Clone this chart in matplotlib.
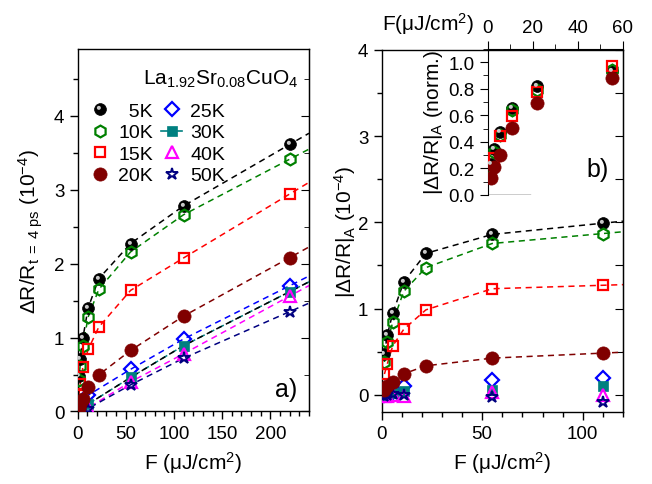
import numpy as np
import matplotlib.pyplot as plt
from matplotlib.path import Path
from matplotlib.lines import Line2D
from matplotlib.ticker import MultipleLocator

plt.rcParams['font.family'] = ['Liberation Sans', 'DejaVu Sans']
plt.rcParams['mathtext.fontset'] = 'custom'
plt.rcParams['mathtext.rm'] = 'Liberation Sans'
plt.rcParams['mathtext.it'] = 'Liberation Sans:italic'
plt.rcParams['mathtext.bf'] = 'Liberation Sans:bold'

# --- panel a) dR/R at t = 4 ps (1e-4) vs fluence (uJ/cm^2) ---
F_a_low = [1.375, 2.75, 5.5, 11, 22, 55, 110, 220]
a_5K = [0.485, 0.71, 0.99, 1.40, 1.795, 2.27, 2.78, 3.61]
a_10K = [0.42, 0.62, 0.883, 1.277, 1.65, 2.157, 2.66, 3.41]
a_15K = [0.22, 0.373, 0.598, 0.838, 1.14, 1.637, 2.076, 2.94]
a_20K = [0.05, 0.10, 0.17, 0.328, 0.495, 0.825, 1.29, 2.08]
F_a_high = [2.75, 11, 55, 110, 220]
a_25K = [0.06, 0.22, 0.57, 0.98, 1.70]
a_30K = [0.03, 0.10, 0.46, 0.89, 1.62]
a_40K = [0.02, 0.05, 0.40, 0.78, 1.56]
a_50K = [0.02, 0.04, 0.36, 0.72, 1.35]

# --- panel b) |dR/R|_A (1e-4) vs fluence ---
F_b_low = [1.375, 2.75, 5.5, 11, 22, 55, 110]
b_5K = [0.47, 0.69, 0.945, 1.31, 1.64, 1.86, 1.99]
b_10K = [0.38, 0.61, 0.84, 1.20, 1.475, 1.755, 1.87]
b_15K = [0.24, 0.355, 0.567, 0.76, 0.985, 1.23, 1.27]
b_20K = [0.06, 0.10, 0.145, 0.243, 0.336, 0.425, 0.483]
F_b_high = [1.375, 2.75, 5.5, 11, 55, 110]
b_25K = [0.0, 0.02, 0.03, 0.10, 0.174, 0.19]
b_30K = [0.0, 0.01, 0.02, 0.04, 0.05, 0.10]
b_40K = [-0.02, -0.01, 0.0, -0.01, 0.03, 0.0]
b_50K = [-0.02, 0.0, 0.01, 0.0, -0.03, -0.08]

labels = ['  5K', '10K', '15K', '20K', '25K', '30K', '40K', '50K']

# --- marker styles ---
th = np.linspace(0, 2 * np.pi, 40)
hl_verts = [(1.0, -1.0)] + [(-0.28 + 0.34 * np.cos(t), 0.28 + 0.34 * np.sin(t)) for t in th]
hl_codes = [Path.MOVETO, Path.MOVETO] + [Path.LINETO] * (len(th) - 2) + [Path.CLOSEPOLY]
highlight = Path(hl_verts, hl_codes)

MS = 8.5
styles = [
    dict(marker='o', color='black', mfc='black', mec='black', ms=MS),
    dict(marker='h', color='green', mfc='none', mec='green', mew=1.6, ms=MS),
    dict(marker='s', color='red', mfc='none', mec='red', mew=1.6, ms=7),
    dict(marker='o', color='#800000', mfc='#800000', mec='#800000', ms=9.5),
    dict(marker='D', color='blue', mfc='none', mec='blue', mew=1.6, ms=7),
    dict(marker='s', color='teal', mfc='teal', mec='teal', ms=7),
    dict(marker='^', color='magenta', mfc='none', mec='magenta', mew=1.6, ms=8),
    dict(marker='*', color='#000080', mfc='none', mec='#000080', mew=1.4, ms=9),
]
hl_style = dict(marker=highlight, mfc='#c8c8c8', mec='none', mew=0, ms=MS)


def dashed(ax, F, y, xmax, color, offset=0):
    F = np.asarray(F, float)
    y = np.asarray(y, float)
    slope = (y[-1] - y[-2]) / (F[-1] - F[-2])
    xs = np.append(F, xmax)
    ys = np.append(y, y[-1] + slope * (xmax - F[-1]))
    ax.plot(xs, ys, ls=(offset, (4, 3)), color=color, lw=1.1, zorder=1)


def points(ax, F, y, i, z=3):
    st = styles[i]
    ax.plot(F, y, ls='none', marker=st['marker'], mfc=st['mfc'], mec=st['mec'],
            mew=st.get('mew', 0.5), ms=st['ms'], zorder=z, clip_on=True)
    if i == 0:
        ax.plot(F, y, ls='none', zorder=z + 0.1, **hl_style)


def style_axis(ax):
    ax.tick_params(which='both', direction='out', labelsize=13.5, top=False, right=False)
    ax.tick_params(which='major', length=6, width=1)
    ax.tick_params(which='minor', length=3.5, width=1)
    for s in ax.spines.values():
        s.set_linewidth(1)
    # mirror ticks pointing inward on the right
    sec = ax.secondary_yaxis('right')
    sec.tick_params(which='both', direction='in', labelright=False)
    sec.tick_params(which='major', length=6)
    sec.tick_params(which='minor', length=3.5)
    return sec


fig = plt.figure(figsize=(6.52, 4.85), dpi=100)
axa = fig.add_axes([0.1189, 0.1495, 0.355, 0.7474])
axb = fig.add_axes([0.5854, 0.1485, 0.370, 0.7464])

# panel a
a_low = [a_5K, a_10K, a_15K, a_20K]
a_high = [a_25K, a_30K, a_40K, a_50K]
for i, y in enumerate(a_low):
    dashed(axa, F_a_low, y, 240, styles[i]['color'])
for i, y in enumerate(a_high):
    dashed(axa, F_a_high, y, 240, styles[i + 4]['color'])
dashed(axa, F_a_high, a_30K, 240, 'black', offset=1.5)
for i, y in enumerate(a_high):
    points(axa, F_a_high, y, i + 4)
for i, y in enumerate(a_low):
    points(axa, F_a_low, y, i)

axa.set_xlim(0, 240)
axa.set_ylim(0, 4.9)
axa.xaxis.set_major_locator(MultipleLocator(50))
axa.xaxis.set_minor_locator(MultipleLocator(10))
axa.yaxis.set_major_locator(MultipleLocator(1))
axa.yaxis.set_minor_locator(MultipleLocator(0.5))
sa = style_axis(axa)
sa.yaxis.set_minor_locator(MultipleLocator(0.5))
axa.set_xlabel('F (\u03bcJ/cm$^{2}$)', fontsize=15, labelpad=5)
axa.set_ylabel('\u0394R/R$_{\\rm t\\ =\\ 4\\ ps}$ (10$^{-4}$)', fontsize=15, labelpad=6)
axa.text(0.952, 0.905, 'La$_{1.92}$Sr$_{0.08}$CuO$_{4}$', transform=axa.transAxes,
         ha='right', va='baseline', fontsize=15)
axa.text(0.95, 0.062, 'a)', transform=axa.transAxes, ha='right', va='center', fontsize=18)

handles = []
for i, st in enumerate(styles):
    h = Line2D([], [], ls='-' if i == 5 else 'none', color=st['color'], lw=1.2,
               marker=st['marker'], mfc=st['mfc'], mec=st['mec'],
               mew=st.get('mew', 0.5), ms=st['ms'])
    if i == 0:
        h = (h, Line2D([], [], ls='none', **hl_style))
    handles.append(h)
axa.legend(handles, labels, ncol=2, loc='upper left', bbox_to_anchor=(0.0, 0.885),
           frameon=False, fontsize=14, numpoints=1, handlelength=1.1,
           handletextpad=0.4, columnspacing=0.4, labelspacing=0.2, borderaxespad=0.2)

# panel b
b_low = [b_5K, b_10K, b_15K, b_20K]
b_high = [b_25K, b_30K, b_40K, b_50K]
for i, y in enumerate(b_low):
    dashed(axb, F_b_low, y, 120, styles[i]['color'])
for i, y in enumerate(b_high):
    points(axb, F_b_high, y, i + 4)
for i, y in enumerate(b_low):
    points(axb, F_b_low, y, i)

axb.set_xlim(0, 120)
axb.set_ylim(-0.2, 4)
axb.xaxis.set_major_locator(MultipleLocator(50))
axb.xaxis.set_minor_locator(MultipleLocator(10))
axb.yaxis.set_major_locator(MultipleLocator(1))
axb.yaxis.set_minor_locator(MultipleLocator(0.5))
sb = style_axis(axb)
sb.yaxis.set_minor_locator(MultipleLocator(0.5))
axb.set_xlabel('F (\u03bcJ/cm$^{2}$)', fontsize=15, labelpad=5)
axb.set_ylabel('|\u0394R/R|$_{\\rm A}$ (10$^{-4}$)', fontsize=15, labelpad=0)
axb.text(0.94, 0.672, 'b)', transform=axb.transAxes, ha='right', va='center', fontsize=18)

# inset: normalised amplitude
axi = fig.add_axes([0.748, 0.596, 0.2075, 0.301])
axi.patch.set_alpha(0)
for i, y in enumerate(b_low):
    y = np.asarray(y)
    points(axi, F_b_low, y / y[-1], i)
axi.set_xlim(0, 60)
axi.set_ylim(0, 1.1)
axi.xaxis.tick_top()
axi.xaxis.set_major_locator(MultipleLocator(20))
axi.xaxis.set_minor_locator(MultipleLocator(10))
axi.yaxis.set_major_locator(MultipleLocator(0.2))
axi.yaxis.set_minor_locator(MultipleLocator(0.1))
axi.yaxis.set_major_formatter(plt.FormatStrFormatter('%.1f'))
axi.tick_params(which='both', direction='out', labelsize=13.5, bottom=False, right=False)
axi.tick_params(which='major', length=6)
axi.tick_params(which='minor', length=3.5)
axi.spines['right'].set_visible(False)
axi.spines['bottom'].set_visible(False)
axi.axhline(0, xmin=0, xmax=0.31, color='black', lw=1)
axi.set_ylabel('|\u0394R/R|$_{\\rm A}$ (norm.)', fontsize=15, labelpad=2)
axi.text(-0.1, 1.09, 'F(\u03bcJ/cm$^{2}$)', transform=axi.transAxes,
         ha='right', va='bottom', fontsize=15)

fig.savefig('out.png', dpi=100)
